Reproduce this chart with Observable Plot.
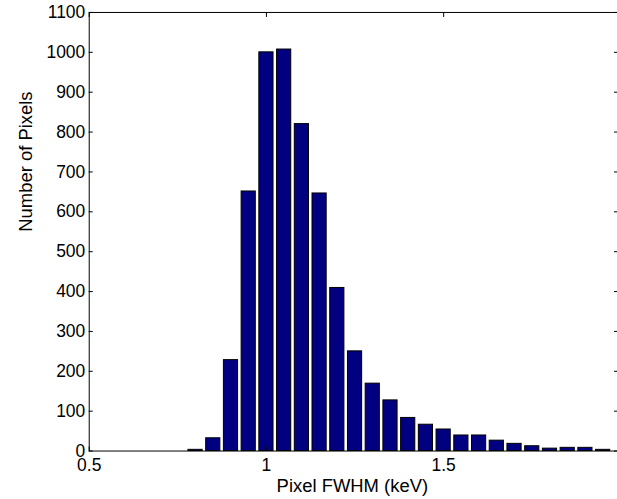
<!DOCTYPE html>
<html>
<head>
<meta charset="utf-8">
<script src="https://cdn.jsdelivr.net/npm/d3@7"></script>
<script src="https://cdn.jsdelivr.net/npm/@observablehq/plot@0.6"></script>
<style>
  html, body { margin: 0; padding: 0; background: #fff; overflow: hidden; width: 617px; height: 499px; }
  #chart { width: 617px; height: 499px; overflow: hidden; }
  #chart svg text { font-size: 17.5px !important; }
  #chart svg g[aria-label="text"] text { font-size: 18.5px !important; }
</style>
</head>
<body>
<div id="chart"></div>
<script>
// Bin centres (keV) and counts
const binCenters = [0.80, 0.85, 0.90, 0.95, 1.00, 1.05, 1.10, 1.15, 1.20, 1.25, 1.30, 1.35, 1.40, 1.45, 1.50, 1.55, 1.60, 1.65, 1.70, 1.75, 1.80, 1.85, 1.90, 1.95];
const counts     = [3, 32, 228, 651, 1000, 1007, 820, 646, 409, 250, 169, 127, 83, 66, 54, 39, 39, 26, 18, 12, 6, 8, 8, 3];
const binWidth = 0.05;
const barFraction = 0.8;
const xTicks = [0.5, 1, 1.5];
const yTicks = [0, 100, 200, 300, 400, 500, 600, 700, 800, 900, 1000, 1100];
const xLabel = "Pixel FWHM (keV)";
const yLabel = "Number of Pixels";

const bars = binCenters.map((c, i) => ({
  x1: c - binWidth * barFraction / 2,
  x2: c + binWidth * barFraction / 2,
  count: counts[i]
}));

const chart = Plot.plot({
  width: 619,
  height: 499,
  marginLeft: 89,
  marginRight: 0,
  marginTop: 12,
  marginBottom: 47,
  style: { fontFamily: "Liberation Sans, Arial, sans-serif", fontSize: "17px", background: "#fff", color: "#000", overflow: "visible" },
  x: { domain: [0.5, 1.9905] },
  y: { domain: [0, 1100] },
  marks: [
    Plot.rectY(bars, { x1: "x1", x2: "x2", y: "count", fill: "#000080", stroke: "#000", strokeWidth: 1 }),
    Plot.frame({ stroke: "#000", strokeWidth: 1 }),
    Plot.axisY({ anchor: "left", ticks: yTicks, tickSize: -4, tickPadding: 8, tickFormat: d3.format("d"), label: null }),
    Plot.axisY({ anchor: "right", ticks: yTicks, tickSize: -4, tickFormat: () => "", label: null }),
    Plot.axisX({ anchor: "bottom", ticks: xTicks, tickSize: -4, tickPadding: 12, tickFormat: d => String(d), label: null }),
    Plot.axisX({ anchor: "top", ticks: xTicks, tickSize: -4, tickFormat: () => "", label: null }),
    Plot.text([xLabel], { frameAnchor: "bottom", dy: 35, dx: -1, text: d => d, lineAnchor: "middle", fill: "#000" }),
    Plot.text([yLabel], { frameAnchor: "left", dx: -63, text: d => d, rotate: -90, lineAnchor: "middle", fill: "#000" })
  ]
});
document.getElementById("chart").appendChild(chart);
</script>
</body>
</html>
